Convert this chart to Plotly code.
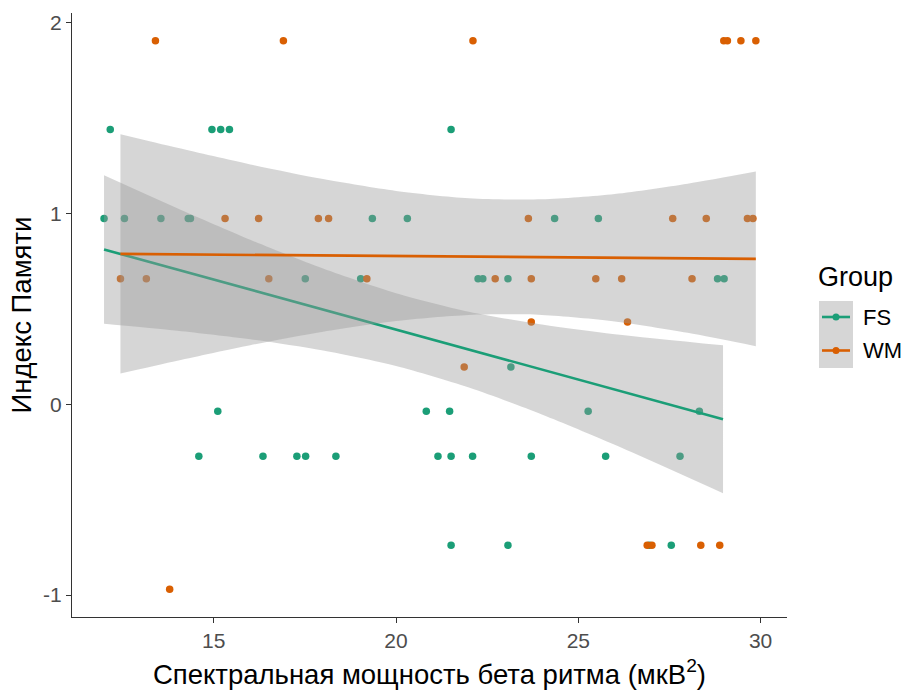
import plotly.graph_objects as go

# ---- data ----
fs_x = [12.16, 14.95, 15.19, 15.43, 21.51,
        11.99, 12.55, 13.55, 14.30, 14.36, 19.35, 20.31, 24.35, 25.55,
        17.51, 19.03, 22.25, 22.38, 23.07, 28.82, 29.00,
        23.15,
        15.11, 20.83, 21.47, 25.27, 28.32,
        14.59, 16.35, 17.28, 17.52, 18.35, 21.15, 21.51, 22.10, 23.71, 25.75, 27.79,
        21.51, 23.07, 26.95, 27.55]
fs_y = [1.441, 1.441, 1.441, 1.441, 1.441,
        0.974, 0.974, 0.974, 0.974, 0.974, 0.974, 0.974, 0.974, 0.974,
        0.659, 0.659, 0.659, 0.659, 0.659, 0.659, 0.659,
        0.196,
        -0.036, -0.036, -0.036, -0.036, -0.036,
        -0.272, -0.272, -0.272, -0.272, -0.272, -0.272, -0.272, -0.272, -0.272, -0.272, -0.272,
        -0.739, -0.739, -0.739, -0.739]

wm_x = [13.40, 16.91, 22.11, 28.99, 29.09, 29.46, 29.87,
        15.31, 16.23, 17.87, 18.15, 23.63, 27.59, 28.51, 29.64, 29.79,
        12.44, 13.15, 16.51, 19.20, 22.72, 23.71, 25.48, 26.19, 28.12,
        23.71, 26.35,
        21.87,
        26.89, 27.02, 28.36, 28.88,
        13.79]
wm_y = [1.906, 1.906, 1.906, 1.906, 1.906, 1.906, 1.906,
        0.974, 0.974, 0.974, 0.974, 0.974, 0.974, 0.974, 0.974, 0.974,
        0.659, 0.659, 0.659, 0.659, 0.659, 0.659, 0.659, 0.659, 0.659,
        0.432, 0.432,
        0.196,
        -0.739, -0.739, -0.739, -0.739,
        -0.970]

# linear-fit lines and 95% bands
fs_fit_x = [11.99, 14.0, 16.0, 18.0, 20.0, 22.0, 24.0, 26.0, 28.97]
fs_fit_y = [0.812, 0.707, 0.602, 0.497, 0.392, 0.287, 0.183, 0.078, -0.078]
fs_fit_hi = [1.201, 1.028, 0.863, 0.712, 0.583, 0.486, 0.419, 0.368, 0.310]
fs_fit_lo = [0.423, 0.386, 0.341, 0.282, 0.201, 0.088, -0.053, -0.212, -0.466]

wm_fit_x = [12.44, 14.0, 16.0, 18.0, 20.0, 22.0, 24.0, 26.0, 28.0, 29.87]
wm_fit_y = [0.789, 0.787, 0.784, 0.781, 0.778, 0.775, 0.772, 0.769, 0.766, 0.763]
wm_fit_hi = [1.416, 1.345, 1.258, 1.181, 1.119, 1.081, 1.075, 1.103, 1.157, 1.221]
wm_fit_lo = [0.162, 0.229, 0.310, 0.381, 0.437, 0.469, 0.469, 0.435, 0.375, 0.305]

groups = ["FS", "WM"]
colors = {"FS": "#1B9E77", "WM": "#D95F02"}
x_ticks = [15, 20, 25, 30]
y_ticks = [-1, 0, 1, 2]

x_title = "Спектральная мощность бета ритма (мкВ<sup>2</sup>)"
y_title = "Индекс Памяти"
legend_title = "Group"

points = {"FS": (fs_x, fs_y), "WM": (wm_x, wm_y)}
fits = {"FS": (fs_fit_x, fs_fit_y, fs_fit_lo, fs_fit_hi),
        "WM": (wm_fit_x, wm_fit_y, wm_fit_lo, wm_fit_hi)}

fig = go.Figure()

# points first (as in ggplot: geom_point then geom_smooth)
for g in groups:
    gx, gy = points[g]
    fig.add_trace(go.Scatter(
        x=gx, y=gy, mode="markers", name=g, showlegend=False,
        marker=dict(color=colors[g], size=7.5, line=dict(width=0)),
    ))

# smooth bands and lines per group
for g in groups:
    xs, ys, lo, hi = fits[g]
    fig.add_trace(go.Scatter(
        x=xs, y=lo, mode="lines", showlegend=False, hoverinfo="skip",
        line=dict(width=0, shape="spline", smoothing=0.8),
    ))
    fig.add_trace(go.Scatter(
        x=xs, y=hi, mode="lines", showlegend=False, hoverinfo="skip",
        fill="tonexty", fillcolor="rgba(153,153,153,0.4)",
        line=dict(width=0, shape="spline", smoothing=0.8),
    ))
    fig.add_trace(go.Scatter(
        x=xs, y=ys, mode="lines", showlegend=False,
        line=dict(color=colors[g], width=2.6),
    ))

# ---- manual legend (ggplot-like keys with grey fill) ----
L, R, T, B = 72, 118, 13, 75
W, H = 905, 692
pw, ph = W - L - R, H - T - B


def px(xp):
    return (xp - L) / pw


def py(yp):
    return (H - B - yp) / ph


shapes = [dict(type="rect", xref="paper", yref="paper",
               x0=px(819), x1=px(853), y0=py(301), y1=py(368),
               fillcolor="#D6D6D6", line=dict(width=0), layer="above")]
annotations = [dict(text=legend_title, xref="paper", yref="paper",
                    x=px(816), y=py(277), xanchor="left", yanchor="middle",
                    showarrow=False, font=dict(size=27, color="black"))]
key_y = {"FS": 317, "WM": 350.5}
for g in groups:
    yk = key_y[g]
    shapes.append(dict(type="line", xref="paper", yref="paper",
                       x0=px(822), x1=px(850), y0=py(yk), y1=py(yk),
                       line=dict(color=colors[g], width=2.6), layer="above"))
    r = 3.5
    shapes.append(dict(type="circle", xref="paper", yref="paper",
                       x0=px(836 - r), x1=px(836 + r), y0=py(yk + r), y1=py(yk - r),
                       fillcolor=colors[g], line=dict(width=0), layer="above"))
    annotations.append(dict(text=g, xref="paper", yref="paper",
                            x=px(861), y=py(yk), xanchor="left", yanchor="middle",
                            showarrow=False, font=dict(size=22, color="black")))

axis_common = dict(
    showgrid=False, zeroline=False, showline=True, linecolor="#333333", linewidth=1.1,
    ticks="outside", ticklen=5, tickwidth=1.1, tickcolor="#333333",
    tickfont=dict(size=21, color="#4D4D4D"),
)

fig.update_layout(
    width=W, height=H,
    margin=dict(l=L, r=R, t=T, b=B, autoexpand=False),
    paper_bgcolor="white", plot_bgcolor="white",
    font=dict(family="Liberation Sans, Arial, sans-serif"),
    showlegend=False,
    xaxis=dict(range=[11.111, 30.725], tickvals=x_ticks, ticktext=[str(v) for v in x_ticks],
               title=dict(text=x_title, font=dict(size=27.5, color="black"), standoff=13),
               **axis_common),
    yaxis=dict(range=[-1.115, 2.052], tickvals=y_ticks, ticktext=[str(v) for v in y_ticks],
               title=dict(text=y_title, font=dict(size=27.5, color="black"), standoff=3),
               **axis_common),
    shapes=shapes, annotations=annotations,
)

fig.write_html("out.html", config={"displayModeBar": False},
               post_script="document.body.style.margin='0';")
